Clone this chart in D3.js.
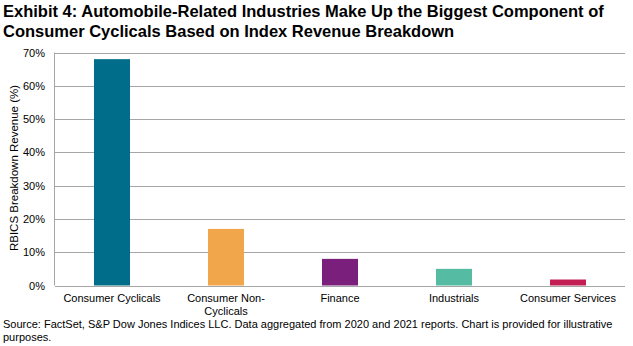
<!DOCTYPE html>
<html>
<head>
<meta charset="utf-8">
<script src="https://cdn.jsdelivr.net/npm/d3@7"></script>
<style>
  body { margin: 0; background: #fff; }
  svg { display: block; font-family: "Liberation Sans", Arial, sans-serif; }
</style>
</head>
<body>
<div id="chart"></div>
<script>
// chart data
const categories = ["Consumer Cyclicals", "Consumer Non-Cyclicals", "Finance", "Industrials", "Consumer Services"];
const values = [68, 17, 8, 5, 1.8];
const barColors = ["#006e8a", "#f2a64c", "#7a1f7c", "#55bba2", "#c21f55"];
const yTicks = [0, 10, 20, 30, 40, 50, 60, 70];

const width = 633, height = 346;
const margin = {top: 52.5, right: 8, bottom: 60.5, left: 55};

const svg = d3.select("#chart").append("svg")
  .attr("width", width)
  .attr("height", height);

// title
svg.append("text")
  .attr("x", 3).attr("y", 17)
  .style("font-size", "16.5px").style("font-weight", "bold").attr("fill", "#000")
  .text("Exhibit 4: Automobile-Related Industries Make Up the Biggest Component of");
svg.append("text")
  .attr("x", 3).attr("y", 37)
  .style("font-size", "16.5px").style("font-weight", "bold").attr("fill", "#000")
  .text("Consumer Cyclicals Based on Index Revenue Breakdown");

const x = d3.scaleBand()
  .domain(categories)
  .range([margin.left, width - margin.right])
  .paddingInner(0.684)
  .paddingOuter(0.342);

const y = d3.scaleLinear()
  .domain([0, 70])
  .range([height - margin.bottom, margin.top]);

// gridlines
svg.append("g")
  .selectAll("line")
  .data(yTicks)
  .join("line")
  .attr("x1", margin.left).attr("x2", width - margin.right)
  .attr("y1", d => Math.round(y(d)) + 0.5).attr("y2", d => Math.round(y(d)) + 0.5)
  .attr("stroke", "#a6a6a6").attr("stroke-width", 1);

// left axis line
svg.append("line")
  .attr("x1", margin.left - 0.5).attr("x2", margin.left - 0.5)
  .attr("y1", y(70)).attr("y2", y(0))
  .attr("stroke", "#a6a6a6");

// y tick labels
svg.append("g")
  .selectAll("text")
  .data(yTicks)
  .join("text")
  .attr("x", 45).attr("y", d => y(d) + 4)
  .attr("text-anchor", "end")
  .style("font-size", "11px").attr("fill", "#000")
  .text(d => d + "%");

// y axis title
svg.append("text")
  .attr("transform", `translate(17.5,168) rotate(-90)`)
  .attr("text-anchor", "middle")
  .style("font-size", "11.5px").attr("fill", "#000")
  .text("RBICS Breakdown Revenue (%)");

// bars
svg.append("g")
  .selectAll("rect")
  .data(values)
  .join("rect")
  .attr("x", (d, i) => x(categories[i]))
  .attr("width", x.bandwidth())
  .attr("y", d => y(d))
  .attr("height", d => y(0) - y(d))
  .attr("fill", (d, i) => barColors[i]);

// category labels (wrap "Consumer Non-Cyclicals")
const catLines = {"Consumer Non-Cyclicals": ["Consumer Non-", "Cyclicals"]};
const cat = svg.append("g")
  .selectAll("text")
  .data(categories)
  .join("text")
  .attr("text-anchor", "middle")
  .style("font-size", "11px").attr("fill", "#000");
cat.each(function(d) {
  const lines = catLines[d] || [d];
  const cx = x(d) + x.bandwidth() / 2;
  lines.forEach((t, k) => {
    d3.select(this).append("tspan")
      .attr("x", cx).attr("y", y(0) + 16 + k * 13)
      .text(t);
  });
});

// source note
svg.append("text")
  .attr("x", 3).attr("y", 328)
  .style("font-size", "11px").attr("fill", "#000")
  .text("Source: FactSet, S&P Dow Jones Indices LLC. Data aggregated from 2020 and 2021 reports. Chart is provided for illustrative");
svg.append("text")
  .attr("x", 3).attr("y", 341)
  .style("font-size", "11px").attr("fill", "#000")
  .text("purposes.");
</script>
</body>
</html>
